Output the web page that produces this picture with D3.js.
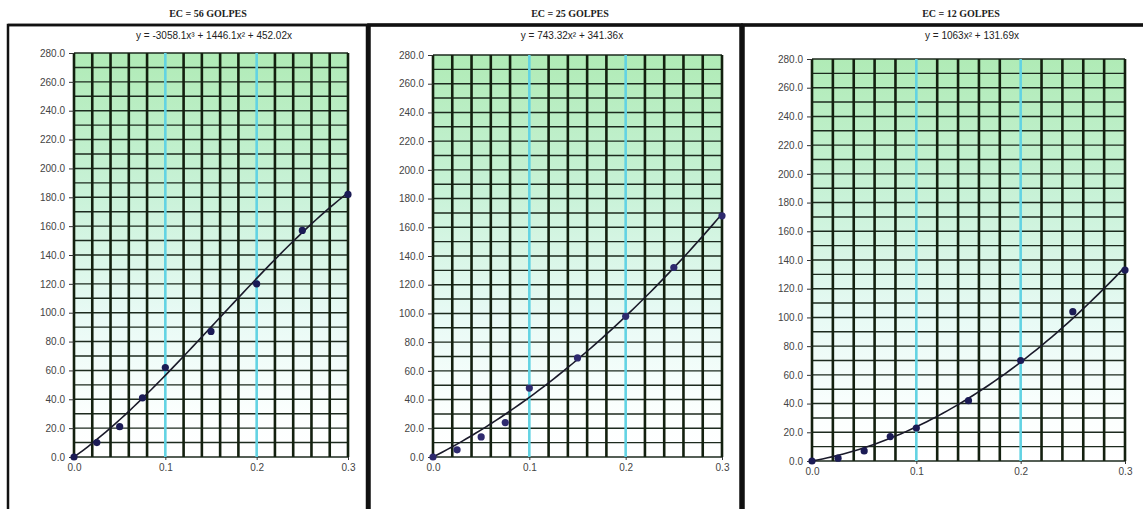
<!DOCTYPE html>
<html><head><meta charset="utf-8">
<script src="https://cdn.jsdelivr.net/npm/d3@7/dist/d3.min.js"></script>
<style>body{margin:0;background:#fff}svg{display:block}</style>
</head><body>
<svg id="c" width="1143" height="509"></svg>
<script>
// ---- data ----
const titles = ["EC = 56 GOLPES", "EC = 25 GOLPES", "EC = 12 GOLPES"];
const equations = ["y = -3058.1x³ + 1446.1x² + 452.02x", "y = 743.32x² + 341.36x", "y = 1063x² + 131.69x"];
const xValues = [0, 0.025, 0.05, 0.075, 0.1, 0.15, 0.2, 0.25, 0.3];
const y56 = [0, 10, 21, 41, 62, 87, 120, 157, 182];
const y25 = [0, 5, 14, 24, 48, 69, 98, 132, 168];
const y12 = [0, 2, 7, 17, 23, 42, 70, 104, 133];
// trend-line coefficients: [x, x², x³]
const coef56 = [452.02, 1446.1, -3058.1];
const coef25 = [341.36, 743.32, 0];
const coef12 = [131.69, 1063, 0];
const yTicks = d3.range(0, 281, 20);
const xTicks = [0, 0.1, 0.2, 0.3];

// ---- layout ----
const panels = [
  {box:[8,25,359,500], plot:[74,348,53,457], tx:208, ex:214, ys:y56, coef:coef56},
  {box:[369,25,372,500], plot:[433,722,55,457], tx:570, ex:572, ys:y25, coef:coef25},
  {box:[743,25,420,500], plot:[812,1125,59,461], tx:961, ex:972, ys:y12, coef:coef12}
];

const svg = d3.select("#c");
const defs = svg.append("defs");
const grad = defs.append("linearGradient").attr("id","bg").attr("x1",0).attr("y1",0).attr("x2",0).attr("y2",1);
[[0,"#b0ebb6"],[0.35,"#c9f2d8"],[0.65,"#e8faf5"],[0.9,"#fcfffe"],[1,"#ffffff"]].forEach(s=>
  grad.append("stop").attr("offset",s[0]).attr("stop-color",s[1]));

panels.forEach((p,i)=>{
  svg.append("rect").attr("x",p.box[0]).attr("y",p.box[1]).attr("width",p.box[2]).attr("height",p.box[3])
    .attr("fill","#fff").attr("stroke","#111").attr("stroke-width",i===0?2.5:3.5);
});
svg.append("line").attr("x1",8).attr("x2",1143).attr("y1",25).attr("y2",25).attr("stroke","#111").attr("stroke-width",2.5);

panels.forEach((p,i)=>{
  const [L,R,T,B] = p.plot;
  const x = d3.scaleLinear().domain([0,0.3]).range([L,R]);
  const y = d3.scaleLinear().domain([0,280]).range([B,T]);
  const g = svg.append("g");

  svg.append("text").attr("x",p.tx).attr("y",17).attr("text-anchor","middle")
    .attr("font-family","Liberation Serif, serif").attr("font-weight","bold").attr("font-size",10)
    .attr("fill","#222").text(titles[i]);
  svg.append("text").attr("x",p.ex).attr("y",39).attr("text-anchor","middle")
    .attr("font-family","Liberation Sans, Arial, sans-serif").attr("font-size",10)
    .attr("fill","#222").text(equations[i]);

  g.append("rect").attr("x",L).attr("y",T).attr("width",R-L).attr("height",B-T).attr("fill","url(#bg)");

  g.selectAll(".h").data(d3.range(0,281,10)).join("line")
    .attr("x1",L).attr("x2",R).attr("y1",d=>y(d)).attr("y2",d=>y(d))
    .attr("stroke","#1c2a1e").attr("stroke-width",1.4);
  const vx = d3.range(0,16).map(k=>k*0.02);
  g.selectAll(".v").data(vx).join("line")
    .attr("x1",d=>x(d)).attr("x2",d=>x(d)).attr("y1",T).attr("y2",B)
    .attr("stroke",(d,k)=> (k===5||k===10) ? "#62d3e3" : "#13200f")
    .attr("stroke-width",2.6);

  const ya = d3.axisLeft(y).tickValues(yTicks).tickFormat(d3.format(".1f")).tickSize(5).tickPadding(4);
  const yg = g.append("g").attr("transform",`translate(${L},0)`).call(ya);
  yg.select(".domain").remove();
  yg.selectAll("line").attr("stroke","#333");
  yg.selectAll("text").attr("font-family","Liberation Sans, Arial, sans-serif").attr("font-size",10).attr("fill","#444");
  const xa = d3.axisBottom(x).tickValues(xTicks).tickFormat(d3.format(".1f")).tickSize(3).tickPadding(4);
  const xg = g.append("g").attr("transform",`translate(0,${B})`).call(xa);
  xg.select(".domain").remove();
  xg.selectAll("line").attr("stroke","#333");
  xg.selectAll("text").attr("font-family","Liberation Sans, Arial, sans-serif").attr("font-size",10).attr("fill","#444");

  const c = p.coef;
  const fx = d3.range(0,0.3001,0.005).map(t=>[t, c[0]*t + c[1]*t*t + c[2]*t*t*t]);
  g.append("path").datum(fx)
    .attr("d", d3.line().x(d=>x(d[0])).y(d=>y(d[1])))
    .attr("fill","none").attr("stroke","#1a1a2a").attr("stroke-width",1.6);

  g.selectAll(".pt").data(xValues.map((xv,k)=>[xv,p.ys[k]])).join("circle")
    .attr("cx",d=>x(d[0])).attr("cy",d=>y(d[1])).attr("r",3.6)
    .attr("fill", i===1 ? "#2e2a6e" : "#1b1b55");
});
</script>
</body></html>
